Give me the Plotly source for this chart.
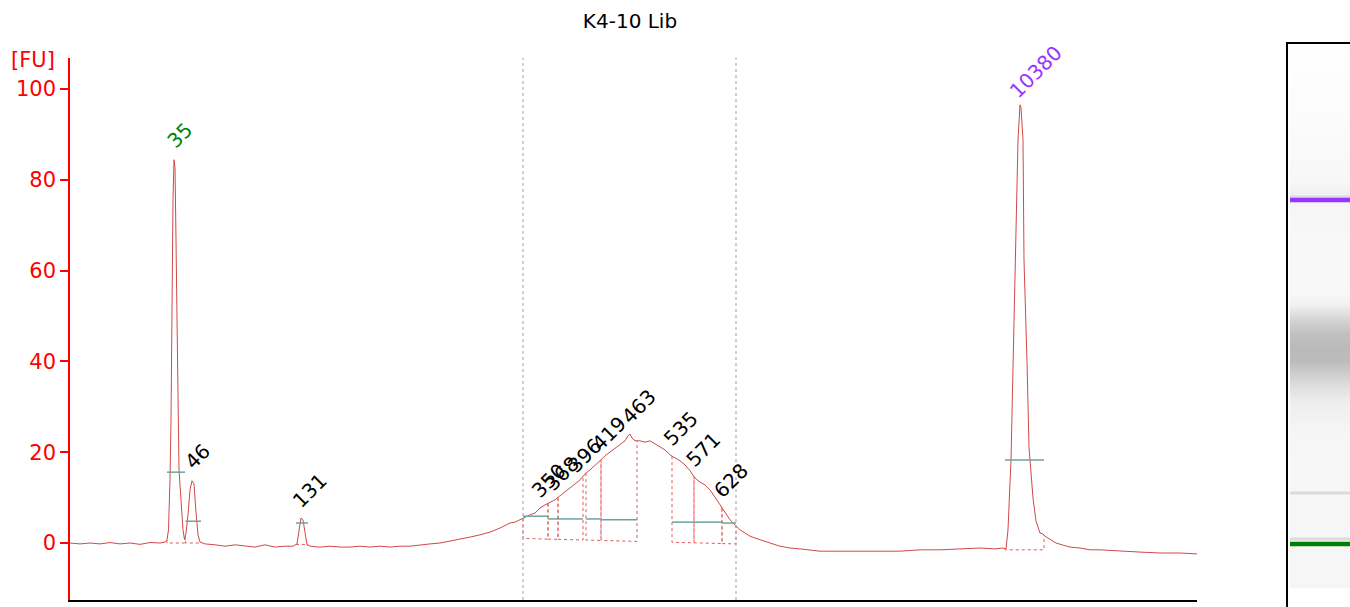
import numpy as np
import plotly.graph_objects as go

# ---------------- data ----------------
title_text = "K4-10 Lib"
y_ticks = [0, 20, 40, 60, 80, 100]

time_s = [7.0, 8.0, 9.0, 10.0, 11.0, 12.0, 13.0, 14.0, 15.0, 16.0, 16.5, 16.7, 16.85, 17.0, 17.1,
          17.2, 17.3, 17.4, 17.5, 17.6, 17.7, 17.8, 17.9, 18.1, 18.3, 18.45, 18.6, 18.8, 19.0,
          19.2, 19.4, 19.6, 19.8, 20.0, 20.5, 21.5, 22.5, 23.5, 24.5, 25.5, 26.5, 27.5, 28.5,
          29.3, 29.7, 29.9, 30.1, 30.3, 30.5, 30.7, 31.0, 32.0, 33.0, 34.0, 35.0, 36.0, 37.0,
          38.0, 39.0, 40.0, 41.0, 42.0, 43.0, 44.0, 45.0, 46.0, 47.0, 48.0, 49.0, 50.0, 51.0,
          51.5, 52.3, 53.0, 53.5, 54.0, 54.5, 55.0, 55.5, 56.0, 56.5, 57.0, 57.5, 58.0, 58.5,
          59.0, 59.5, 60.0, 60.5, 61.0, 61.5, 62.0, 62.5, 62.8, 63.0, 63.2, 63.5, 64.0, 64.5,
          65.0, 65.5, 66.0, 66.5, 67.0, 67.5, 68.0, 68.5, 69.0, 69.5, 70.0, 70.5, 71.0, 71.5,
          72.0, 72.5, 73.0, 73.5, 74.0, 74.5, 75.0, 75.5, 76.0, 77.0, 78.0, 79.0, 80.0, 81.0,
          82.0, 84.0, 86.0, 88.0, 90.0, 92.0, 94.0, 96.0, 98.0, 99.5, 100.3, 100.6, 100.8,
          101.1, 101.4, 101.6, 101.8, 102.0, 102.1, 102.3, 102.4, 102.7, 102.9, 103.3, 103.6,
          104.0, 104.3, 104.5, 104.8, 105.2, 105.6, 106.2, 107.0, 108.0, 109.0, 110.0, 112.0,
          114.0, 116.0, 118.0, 119.7]
fu = [0.0, -0.2, 0.0, -0.2, 0.1, -0.2, 0.0, -0.3, 0.1, 0.0, 0.2, 0.7, 2.9, 13.9, 27.1,
      53.5, 75.6, 84.4, 82.6, 66.7, 46.9, 27.1, 16.1, 9.5, 2.9, 0.7, 2.2, 6.2, 11.7,
      13.7, 13.0, 6.8, 1.8, 0.2, -0.2, -0.4, -0.7, -0.4, -0.7, -0.9, -0.4, -0.9, -0.7,
      -0.7, -0.2, 2.9, 5.5, 5.1, 1.8, -0.4, -0.7, -0.9, -0.7, -0.9, -0.9, -0.7, -0.9,
      -0.7, -0.9, -0.7, -0.7, -0.4, -0.2, 0.0, 0.4, 0.9, 1.3, 1.8, 2.4, 3.3, 4.4,
      4.6, 5.5, 6.2, 6.6, 7.7, 8.4, 9.0, 9.5, 10.4, 11.2, 12.1, 13.0, 13.9, 15.2,
      16.1, 17.0, 18.1, 19.2, 20.0, 20.9, 21.8, 22.5, 23.6, 24.0, 23.1, 22.5, 22.5, 22.2,
      22.5, 21.8, 21.1, 20.5, 19.4, 18.7, 18.1, 17.2, 15.9, 14.3, 13.4, 12.8, 11.7, 10.1,
      8.4, 6.8, 5.1, 4.0, 2.9, 2.2, 1.5, 1.1, 0.7, 0.0, -0.7, -1.1, -1.3, -1.5,
      -1.8, -1.8, -1.8, -1.8, -1.8, -1.5, -1.5, -1.3, -1.1, -1.3, -1.1, -1.3, 2.9,
      18.3, 49.1, 73.3, 88.8, 96.5, 95.8, 88.8, 62.3, 39.9, 21.1, 9.9, 4.8,
      2.2, 2.0, 1.5, 1.1, 0.7, 0.0, -0.4, -0.9, -1.1, -1.5, -1.5, -1.8,
      -2.0, -2.2, -2.2, -2.4]

peak_labels = ["35", "46", "131", "350", "368", "396", "419", "463", "535", "571", "628", "10380"]
peak_colors = ["#008000", "black", "black", "black", "black", "black", "black", "black",
               "black", "black", "black", "#9933ff"]
peak_apex_t = [17.4, 19.2, 30.1, 54.0, 55.3, 57.6, 60.0, 63.0, 67.2, 69.4, 72.2, 102.0]
peak_start_t = [16.7, 18.55, 29.6, 52.3, 54.8, 55.8, 58.6, 60.1, 67.2, 69.4, 72.2, 100.5]
peak_end_t = [18.5, 20.1, 30.8, 54.8, 55.8, 58.3, 60.1, 63.7, 69.4, 72.2, 73.6, 104.4]
peak_width_fu = [15.6, 4.8, 4.4, 5.9, 5.3, 5.3, 5.3, 5.1, 4.6, 4.6, 4.4, 18.3]
baseline_t = [7.0, 16.0, 20.5, 29.0, 31.0, 52.3, 73.6, 99.0, 105.0, 119.7]
baseline_fu = [0.0, 0.0, 0.0, -0.3, -0.3, 1.0, -0.2, -1.5, -1.5, -2.0]
region_t = [52.3, 73.6]

# gel lane: row 0 = top of lane frame, gray level 0..255
gel_rows = [0, 40, 100, 140, 150, 165, 200, 250, 262, 275, 290, 305, 318, 330, 345, 360,
            385, 420, 490, 544, 546, 564]
gel_gray = [255, 253, 250, 247, 240, 246, 248, 248, 240, 215, 192, 186, 188, 205, 225, 238,
            245, 247, 246, 246, 255, 255]
gel_band_rows = [157, 501]
gel_band_colors = ["#9933ff", "#008000"]
gel_faint_rows = [154, 450, 496]

# ---------------- figure ----------------
W, H = 1350, 607
ML, MT = 70, 43
plot_w, plot_h = W - ML, H - MT
x_dom = [0, (1197 - ML) / plot_w]
y_dom = [(H - 600) / plot_h, (H - 58) / plot_h]

t_arr = np.array(time_s)
f_arr = np.array(fu)

fig = go.Figure()

# electropherogram trace
fig.add_trace(go.Scatter(x=time_s, y=fu, mode="lines",
                         line=dict(color="#d04848", width=1), hoverinfo="skip"))

# peak boxes (dotted) and width lines (teal)
bx, by, tx, ty = [], [], [], []
for s, e, w in zip(peak_start_t, peak_end_t, peak_width_fu):
    bs = float(np.interp(s, baseline_t, baseline_fu))
    be = float(np.interp(e, baseline_t, baseline_fu))
    ts = float(np.interp(s, t_arr, f_arr))
    te = float(np.interp(e, t_arr, f_arr))
    bx += [s, s, e, e, None]
    by += [ts, bs, be, te, None]
    tx += [s, e, None]
    ty += [w, w, None]
fig.add_trace(go.Scatter(x=bx, y=by, mode="lines",
                         line=dict(color="#e05a5a", width=1, dash="dot"), hoverinfo="skip"))
fig.add_trace(go.Scatter(x=tx, y=ty, mode="lines",
                         line=dict(color="#6aa3a0", width=1.5), hoverinfo="skip"))

# region markers
for rt in region_t:
    fig.add_shape(type="line", xref="x", yref="y domain", x0=rt, x1=rt, y0=0, y1=1,
                  line=dict(color="#9a9ad0", width=1, dash="dot"))

# peak labels
for lab, col, at in zip(peak_labels, peak_colors, peak_apex_t):
    af = float(np.interp(at, t_arr, f_arr))
    n = len(lab)
    fig.add_annotation(x=at, y=af, xref="x", yref="y", text=lab, showarrow=False,
                       textangle=-45, xanchor="center", yanchor="middle",
                       xshift=3.5 * n - 2, yshift=18 + 3 * n,
                       font=dict(family="DejaVu Sans", size=20, color=col))

# gel lane
fig.add_trace(go.Heatmap(x=[0, 1], y=gel_rows, z=[[g, g] for g in gel_gray],
                         xaxis="x2", yaxis="y2", zmin=0, zmax=255, zsmooth="best",
                         colorscale=[[0, "rgb(0,0,0)"], [1, "rgb(255,255,255)"]],
                         showscale=False, hoverinfo="skip"))
for r in gel_faint_rows:
    fig.add_trace(go.Scatter(x=[-0.5, 1.5], y=[r, r], mode="lines", xaxis="x2", yaxis="y2",
                             line=dict(color="#dcdcdc", width=3), hoverinfo="skip"))
for r, c in zip(gel_band_rows, gel_band_colors):
    fig.add_trace(go.Scatter(x=[-0.5, 1.5], y=[r, r], mode="lines", xaxis="x2", yaxis="y2",
                             line=dict(color=c, width=4.5), hoverinfo="skip"))
fig.add_shape(type="rect", xref="paper", yref="paper",
              x0=(1287 - ML) / plot_w, x1=1.05, y0=-0.05, y1=1.0,
              line=dict(color="black", width=2))

fig.add_annotation(text="[FU]", xref="paper", yref="paper",
                   x=(33 - ML) / plot_w, y=(H - 60) / plot_h, showarrow=False,
                   xanchor="center", yanchor="middle",
                   font=dict(family="DejaVu Sans", size=21, color="red"))

fig.update_layout(
    width=W, height=H,
    margin=dict(l=ML, r=0, t=MT, b=0, pad=0),
    paper_bgcolor="white", plot_bgcolor="white",
    showlegend=False,
    title=dict(text=title_text, x=(630 - ML) / plot_w, xref="paper", xanchor="center",
               y=1 - 21 / H, yref="container", yanchor="middle",
               font=dict(family="DejaVu Sans", size=20, color="black")),
    xaxis=dict(domain=x_dom, range=[7.0, 119.7], showgrid=False, zeroline=False,
               showticklabels=False, ticks="", showline=True, linecolor="black", linewidth=2),
    yaxis=dict(domain=y_dom, range=[-12.55, 106.8], tickvals=y_ticks, showgrid=False,
               zeroline=False, showline=True, linecolor="red", linewidth=1.5,
               ticks="outside", ticklen=8, tickcolor="red", tickwidth=1.5,
               tickfont=dict(family="DejaVu Sans", size=21, color="red")),
    xaxis2=dict(domain=[(1290 - ML) / plot_w, 1], range=[-0.5, 1.5], visible=False,
                anchor="y2"),
    yaxis2=dict(domain=[0, 1], range=[564, 0], visible=False, anchor="x2"),
)

fig.write_html("out.html", config={"displayModeBar": False},
               post_script="document.body.style.margin='0';document.body.style.overflow='hidden';")
